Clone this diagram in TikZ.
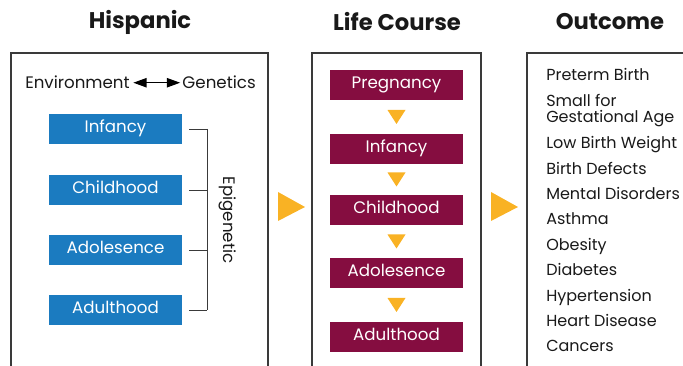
\documentclass[tikz,border=0pt]{standalone}
\usepackage{fontspec}
\setmainfont{Poppins}
\usetikzlibrary{positioning,calc,arrows.meta}
\definecolor{hispblue}{HTML}{1B7BC0}
\definecolor{lifered}{HTML}{850D40}
\definecolor{pointyellow}{HTML}{F9B224}
\definecolor{frameline}{HTML}{3A3A3A}
\tikzset{
  title/.style={font=\bfseries\fontsize{17}{19}\selectfont, text=black!90},
  body/.style={font=\fontsize{12}{13}\selectfont, text=black!90, inner sep=0pt},
  stagebox/.style={minimum width=99.75pt, minimum height=22.5pt, inner sep=0pt,
    text height=9pt, text depth=3pt, text=white, font=\fontsize{12.5}{13}\selectfont},
  hispbox/.style={stagebox, fill=hispblue},
  lifebox/.style={stagebox, fill=lifered},
  frame/.style={draw=frameline, line width=0.8pt},
  bracketline/.style={draw=frameline, line width=0.7pt},
}
\begin{document}
\begin{tikzpicture}[x=0.75pt, y=-0.75pt]
		%%%%% START %%%%%
		\useasboundingbox (0,0) rectangle (683,366);
		
		% titles
		\node[title] (t1) at (140,22) {Hispanic};
		\node[title] (t2) at (397,22) {Life Course};
		\node[title] (t3) at (610,22) {Outcome};
		
		% open frames
		\draw[frame] (11,366) |- (268,53) -- (268,366);
		\draw[frame] (312,366) |- (481,53) -- (481,366);
		\draw[frame] (527,366) |- (690,53);
		
		% hispanic column
		\node[body, anchor=base west, font=\fontsize{12.5}{13}\selectfont] (env) at (25,89) {Environment};
		\node[body, anchor=base east, font=\fontsize{12.5}{13}\selectfont] (gen) at (256,89) {Genetics};
		\draw[line width=1pt, {Triangle[length=10pt,width=7pt]}-{Triangle[length=10pt,width=7pt]}]
			([xshift=2.5pt]env.east) -- ([xshift=-1.5pt]gen.west);
		
		\node[hispbox] (hinf) at (115.5,129) {Infancy};
		\node[hispbox] (hchild) at (115.5,190) {Childhood};
		\node[hispbox] (hadol) at (115.5,250) {Adolesence};
		\node[hispbox] (hadult) at (115.5,310) {Adulthood};
		
		\foreach \n in {hinf,hchild,hadol,hadult}
			\draw[bracketline] ([xshift=5.25pt]\n.east) -- ([xshift=18.75pt]\n.east);
		\draw[bracketline] ([xshift=18.75pt]hinf.east) -- ([xshift=18.75pt]hadult.east);
		\node[body, rotate=-90, font=\fontsize{12.5}{13}\selectfont] (epi) at (228,220) {Epigenetic};
		
		% life course column
		\node[lifebox] (lpreg) at (396.5,85) {Pregnancy};
		\node[lifebox] (linf) at (396.5,149) {Infancy};
		\node[lifebox] (lchild) at (396.5,210) {Childhood};
		\node[lifebox] (ladol) at (396.5,273) {Adolesence};
		\node[lifebox] (ladult) at (396.5,337) {Adulthood};
		
		\foreach \a/\b in {lpreg/linf,linf/lchild,lchild/ladol,ladol/ladult}{
			\coordinate (m) at ($(\a.south)!0.5!(\b.north)$);
			\fill[pointyellow] ($(m)+(-9,-7)$) -- ($(m)+(9,-7)$) -- ($(m)+(0,7)$) -- cycle;
		}
		
		% big pointers
		\fill[pointyellow] (278,192) -- (305,207) -- (278,221) -- cycle;
		\fill[pointyellow] (491,192) -- (518,207) -- (491,221) -- cycle;
		
		% outcome column
		\foreach \y/\txt [count=\i] in {75/Preterm Birth, 143/Low Birth Weight, 169/Birth Defects,
			194/Mental Disorders, 219/Asthma, 245/Obesity, 270/Diabetes, 296/Hypertension,
			321/Heart Disease, 346/Cancers}
			\node[body, anchor=base west] (out\i) at (546,\y+6) {\txt};
		\node[body, anchor=base west, align=left, font=\fontsize{12}{12}\selectfont] (outsga) at (546,123)
			{Small for\\Gestational Age};
		
		%%%%% END %%%%%
\end{tikzpicture}
\end{document}
